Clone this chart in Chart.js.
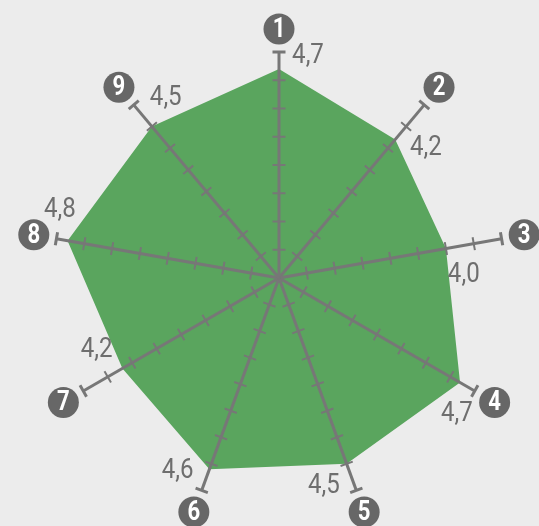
<!DOCTYPE html>
<html>
<head>
<meta charset="utf-8">
<script src="https://cdn.jsdelivr.net/npm/chart.js@4"></script>
<style>
  html, body { margin: 0; padding: 0; background: #ececec; }
  #wrap { width: 539px; height: 526px; }
</style>
</head>
<body>
<div id="wrap"><canvas id="radar" width="539" height="526"></canvas></div>
<script>
// data
const axisNames = ["1", "2", "3", "4", "5", "6", "7", "8", "9"];
const scores = [4.7, 4.2, 4.0, 4.7, 4.5, 4.6, 4.2, 4.8, 4.5];
const scaleMin = 1;
const scaleMax = 5;
const scaleStep = 0.5;

const fontFam = '"Roboto", "DejaVu Sans", sans-serif';

// narrow-looking text: squeeze horizontally around the anchor
function narrowText(ctx, txt, x, y, sx) {
  ctx.save();
  ctx.translate(x, y);
  ctx.scale(sx, 1);
  ctx.fillText(txt, 0, 0);
  ctx.restore();
}

// draws axes, tick marks, numbered circles and value labels over the fill
const axisDecor = {
  id: "axisDecor",
  beforeDraw(chart) {
    const ctx = chart.ctx;
    ctx.save();
    ctx.fillStyle = "#ececec";
    ctx.fillRect(0, 0, chart.width, chart.height);
    ctx.restore();
  },
  afterDatasetsDraw(chart) {
    const s = chart.scales.r;
    const ctx = chart.ctx;
    const cx = s.xCenter, cy = s.yCenter;
    const outer = s.getDistanceFromCenterForValue(s.max);
    ctx.save();
    axisNames.forEach((name, i) => {
      const a = s.getIndexAngle(i) - Math.PI / 2;
      const ux = Math.cos(a), uy = Math.sin(a);
      const px = -uy, py = ux;

      // axis line
      ctx.strokeStyle = "#777777";
      ctx.lineWidth = 3;
      ctx.beginPath();
      ctx.moveTo(cx, cy);
      ctx.lineTo(cx + ux * outer, cy + uy * outer);
      ctx.stroke();

      // tick marks + end cap
      s.ticks.forEach((t) => {
        if (t.value <= s.min) return;
        const d = s.getDistanceFromCenterForValue(t.value);
        const x = cx + ux * d, y = cy + uy * d;
        ctx.lineWidth = t.value >= s.max ? 3 : 2;
        ctx.beginPath();
        ctx.moveTo(x - px * 6.5, y - py * 6.5);
        ctx.lineTo(x + px * 6.5, y + py * 6.5);
        ctx.stroke();
      });

      // numbered circle
      const r = outer + 23;
      const bx = cx + ux * r, by = cy + uy * r;
      ctx.fillStyle = "#676767";
      ctx.beginPath();
      ctx.arc(bx, by, 15.5, 0, Math.PI * 2);
      ctx.fill();
      ctx.fillStyle = "#ffffff";
      ctx.font = "bold 27px " + fontFam;
      ctx.textAlign = "center";
      ctx.textBaseline = "middle";
      narrowText(ctx, name, bx, by + 1, 0.82);

      // value label
      const v = s.getPointPosition(i, s.getDistanceFromCenterForValue(scores[i]));
      const lx = v.x + ux * 13 + px * 29;
      const ly = v.y + uy * 13 + py * 29;
      ctx.fillStyle = "#6e6e6e";
      ctx.font = "28px " + fontFam;
      narrowText(ctx, scores[i].toFixed(1).replace(".", ","), lx, ly, 0.86);
    });
    ctx.restore();
  }
};

new Chart(document.getElementById("radar"), {
  type: "radar",
  data: {
    labels: axisNames,
    datasets: [
      {
        data: scores,
        fill: true,
        backgroundColor: "#5aa55e",
        borderWidth: 0,
        pointRadius: 0,
        tension: 0,
      },
    ],
  },
  options: {
    responsive: false,
    animation: false,
    layout: {
      padding: { left: 20, right: 0, top: 52, bottom: 22 },
    },
    plugins: {
      legend: { display: false },
      tooltip: { enabled: false },
    },
    scales: {
      r: {
        min: scaleMin,
        max: scaleMax,
        ticks: { stepSize: scaleStep, display: false },
        grid: { display: false },
        angleLines: { display: false },
        pointLabels: { display: false },
      },
    },
  },
  plugins: [axisDecor],
});
</script>
</body>
</html>
